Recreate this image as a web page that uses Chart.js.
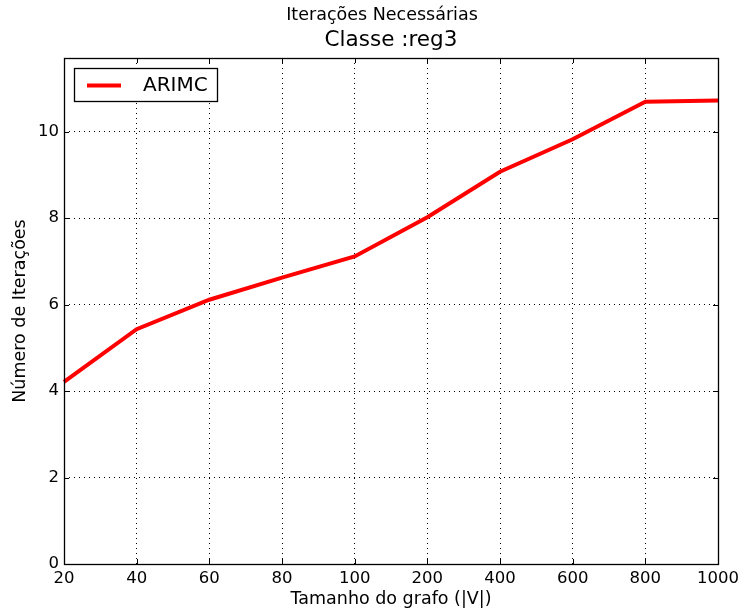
<!DOCTYPE html>
<html>
<head>
<meta charset="utf-8">
<script src="https://cdn.jsdelivr.net/npm/chart.js@4/dist/chart.umd.min.js"></script>
<style>
  html, body { margin: 0; padding: 0; background: #fff; }
  #wrap { width: 744px; height: 613px; }
</style>
</head>
<body>
<div id="wrap"><canvas id="c" width="744" height="613"></canvas></div>
<script>
const categories = ["20", "40", "60", "80", "100", "200", "400", "600", "800", "1000"];
const arimcValues = [4.21, 5.43, 6.11, 6.62, 7.11, 8.02, 9.07, 9.82, 10.69, 10.72];
const yTicks = [0, 2, 4, 6, 8, 10];
const seriesName = "ARIMC";
const mainTitle = "Iterações Necessárias";
const subTitle = "Classe :reg3";
const xTitle = "Tamanho do grafo (|V|)";
const yTitle = "Número de Iterações";

const FONT = "'DejaVu Sans', sans-serif";

const framePlugin = {
  id: 'frame',
  afterDraw(chart) {
    const ctx = chart.ctx;
    const a = chart.chartArea;
    ctx.save();
    ctx.setLineDash([]);
    ctx.strokeStyle = '#000';
    ctx.lineWidth = 1;
    const xs = chart.scales.x, ys = chart.scales.y;
    ctx.beginPath();
    xs.ticks.forEach((t, i) => {
      const px = Math.round(xs.getPixelForTick(i)) + 0.5;
      ctx.moveTo(px, a.bottom); ctx.lineTo(px, a.bottom - 5);
      ctx.moveTo(px, a.top); ctx.lineTo(px, a.top + 5);
    });
    ys.ticks.forEach((t) => {
      const py = Math.round(ys.getPixelForValue(t.value)) + 0.5;
      ctx.moveTo(a.left, py); ctx.lineTo(a.left + 5, py);
      ctx.moveTo(a.right, py); ctx.lineTo(a.right - 5, py);
    });
    ctx.stroke();
    ctx.lineWidth = 1.3;
    ctx.strokeRect(Math.round(a.left) + 0.5, Math.round(a.top) + 0.5,
                   Math.round(a.right - a.left), Math.round(a.bottom - a.top));
    ctx.fillStyle = '#000';
    ctx.textAlign = 'center';
    ctx.textBaseline = 'middle';
    ctx.font = "17.5px " + FONT;
    ctx.fillText(mainTitle, 382, 15);
    ctx.font = "21.5px " + FONT;
    ctx.fillText(subTitle, (a.left + a.right) / 2, 40);
    const ds = chart.data.datasets[0];
    const lx = a.left + 10, ly = a.top + 10, lw = 143, lh = 33;
    ctx.fillStyle = '#fff';
    ctx.fillRect(lx, ly, lw, lh);
    ctx.strokeStyle = '#000';
    ctx.lineWidth = 1.3;
    ctx.strokeRect(lx + 0.5, ly + 0.5, lw, lh);
    ctx.strokeStyle = ds.borderColor;
    ctx.lineWidth = 4;
    ctx.beginPath();
    ctx.moveTo(lx + 13, ly + lh / 2 + 1);
    ctx.lineTo(lx + 47, ly + lh / 2 + 1);
    ctx.stroke();
    ctx.fillStyle = '#000';
    ctx.textAlign = 'left';
    ctx.font = "20px " + FONT;
    ctx.fillText(ds.label, lx + 69, ly + lh / 2 + 1);
    ctx.restore();
  }
};

new Chart(document.getElementById('c'), {
  type: 'line',
  data: {
    labels: categories,
    datasets: [{
      label: seriesName,
      data: arimcValues,
      borderColor: '#ff0000',
      backgroundColor: '#ff0000',
      borderWidth: 4,
      pointRadius: 0,
      tension: 0,
      fill: false
    }]
  },
  options: {
    responsive: false,
    animation: false,
    layout: { padding: { top: 58, right: 26, left: 0, bottom: 0 } },
    plugins: {
      legend: { display: false },
      title: { display: false },
      tooltip: { enabled: false }
    },
    scales: {
      x: {
        type: 'category',
        offset: false,
        grid: { color: '#000', lineWidth: 1, drawTicks: false },
        border: { display: false, dash: [1, 4] },
        ticks: { color: '#000', font: { family: FONT, size: 16.5 }, padding: 5, maxRotation: 0, autoSkip: false },
        title: { display: true, text: xTitle, color: '#000', font: { family: FONT, size: 17.5 }, padding: { top: 0, bottom: 3 } },
        afterFit(s) { s.height = 49; }
      },
      y: {
        type: 'linear',
        min: 0,
        max: 11.7,
        grid: { color: '#000', lineWidth: 1, drawTicks: false },
        border: { display: false, dash: [1, 4] },
        ticks: { color: '#000', font: { family: FONT, size: 16.5 }, padding: 5, stepSize: 2 },
        afterBuildTicks(s) { s.ticks = yTicks.map(v => ({ value: v })); },
        title: { display: true, text: yTitle, color: '#000', font: { family: FONT, size: 17.5 }, padding: { top: 10, bottom: 0 } },
        afterFit(s) { s.width = 64; }
      }
    }
  },
  plugins: [framePlugin]
});
</script>
</body>
</html>
